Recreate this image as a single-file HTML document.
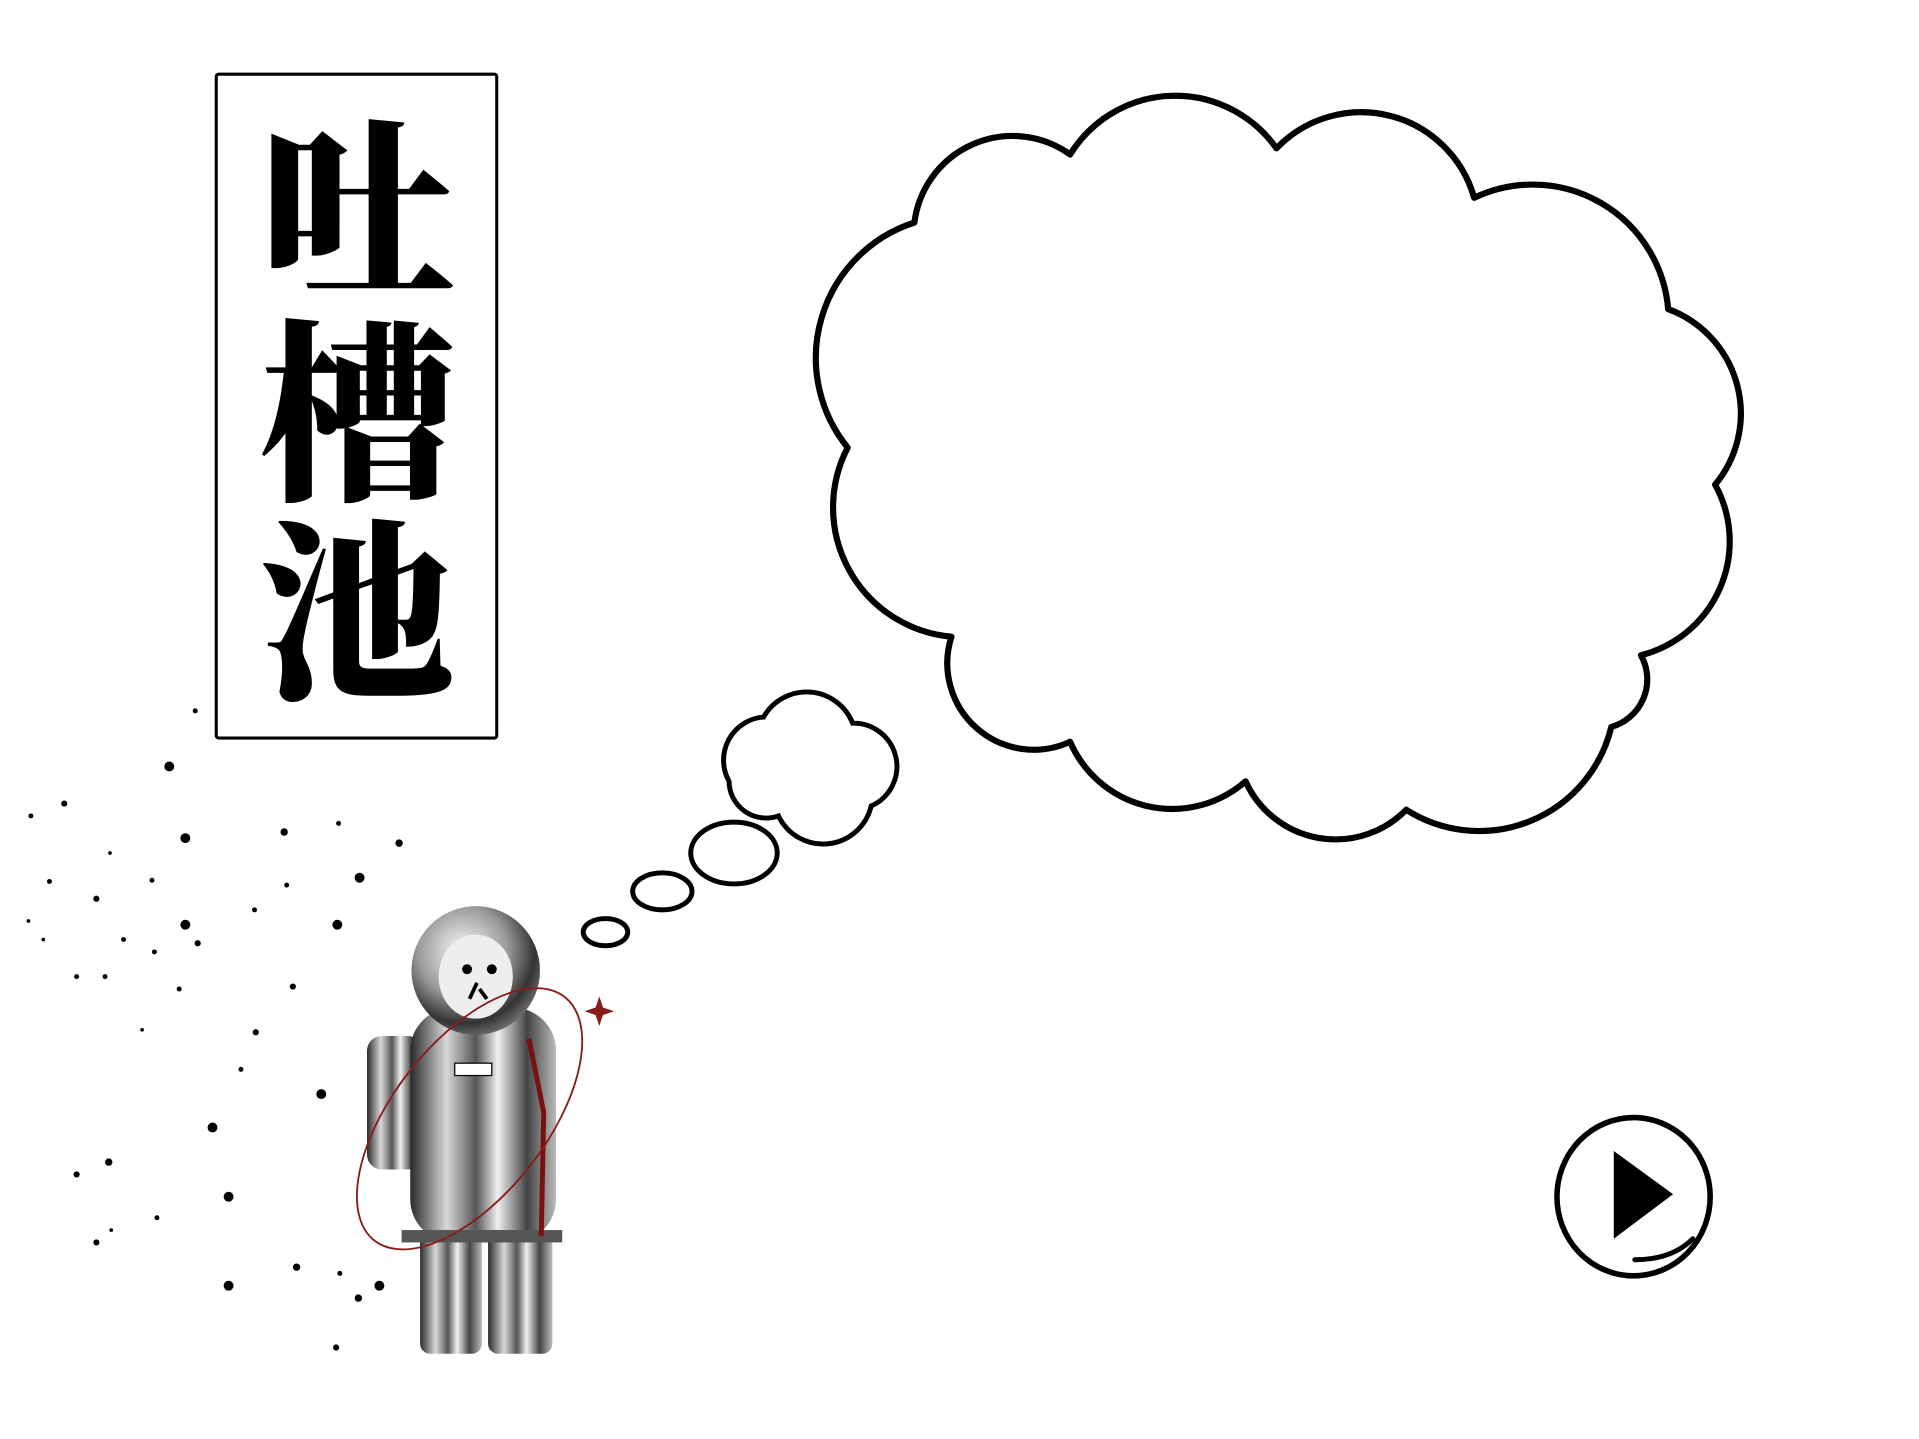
<!DOCTYPE html>
<html><head><meta charset="utf-8"><style>
html,body{margin:0;padding:0;background:#fff;}
svg{display:block;}
</style></head><body>
<svg width="1919" height="1439" viewBox="0 0 1553 1164" preserveAspectRatio="none">
<defs>
<linearGradient id="chrome" x1="0" x2="1">
<stop offset="0" stop-color="#2a2a2a"/><stop offset="0.25" stop-color="#d8d8d8"/><stop offset="0.45" stop-color="#555"/><stop offset="0.6" stop-color="#f0f0f0"/><stop offset="0.8" stop-color="#444"/><stop offset="1" stop-color="#bbb"/>
</linearGradient>
<radialGradient id="helm" cx="0.4" cy="0.35" r="0.7">
<stop offset="0" stop-color="#fafafa"/><stop offset="0.5" stop-color="#9a9a9a"/><stop offset="0.8" stop-color="#333"/><stop offset="1" stop-color="#777"/>
</radialGradient>
</defs>
<g>
<rect x="175" y="60" width="227" height="537" fill="#fff" stroke="#000" stroke-width="2.5" rx="2"/>
<g font-family="'Liberation Serif','Noto Serif CJK SC',serif" font-weight="900" font-size="158" text-anchor="middle" fill="#000">
<text x="289" y="228">吐</text>
<text x="289" y="392">槽</text>
<text x="289" y="553">池</text>
</g></g>
<path fill="#fff" stroke="#000" stroke-width="5" stroke-linejoin="round"
d="M740,180 A80,80 0 0 1 866,125 A100,100 0 0 1 1033,120 A95,95 0 0 1 1193,160 A110,110 0 0 1 1350,250 A90,90 0 0 1 1388,392 A95,95 0 0 1 1328,530 A40,40 0 0 1 1304,588 A110,110 0 0 1 1138,655 A80,80 0 0 1 1008,632 A90,90 0 0 1 866,600 A70,70 0 0 1 770,515 A105,105 0 0 1 686,362 A115,115 0 0 1 740,180 Z"/>
<g fill="#fff" stroke="#000" stroke-width="4">
<path d="M590,632 A35,35 0 0 1 618,580 A40,40 0 0 1 690,585 A35,35 0 0 1 705,652 A40,40 0 0 1 630,660 A30,30 0 0 1 590,632 Z"/>
<ellipse cx="594" cy="690" rx="35" ry="25"/>
<ellipse cx="536" cy="721" rx="24" ry="15"/>
<ellipse cx="490" cy="754" rx="18" ry="11"/>
</g>
<g>
<rect x="297" y="838" width="45" height="108" rx="12" fill="url(#chrome)"/>
<rect x="332" y="815" width="118" height="190" rx="35" fill="url(#chrome)"/>
<rect x="340" y="995" width="50" height="100" rx="8" fill="url(#chrome)"/>
<rect x="395" y="995" width="52" height="100" rx="8" fill="url(#chrome)"/>
<rect x="325" y="995" width="130" height="10" fill="#555"/>
<path d="M428,840 L440,900 L438,1000" stroke="#7a1010" stroke-width="4" fill="none"/>
<circle cx="385" cy="785" r="52" fill="url(#helm)"/>
<ellipse cx="385" cy="790" rx="30" ry="34" fill="#eee"/>
<circle cx="378" cy="784" r="4" fill="#000"/><circle cx="398" cy="784" r="4" fill="#000"/>
<path d="M386,795 L380,808 M388,800 L394,808" stroke="#000" stroke-width="3"/>
<rect x="368" y="860" width="30" height="10" fill="#fff" stroke="#000"/>
<ellipse cx="380" cy="905" rx="125" ry="62" transform="rotate(-52 380 905)" fill="none" stroke="#8a1c1c" stroke-width="1.5"/>
<path d="M485,806 L488,815 L497,818 L488,821 L485,830 L482,821 L473,818 L482,815 Z" fill="#8a1c1c"/>
</g>
<g fill="#000">
<circle cx="158" cy="575" r="2"/><circle cx="137" cy="620" r="4"/><circle cx="25" cy="660" r="2"/><circle cx="52" cy="650" r="2.5"/><circle cx="150" cy="678" r="4"/><circle cx="230" cy="673" r="3"/><circle cx="274" cy="666" r="2"/><circle cx="323" cy="682" r="3"/><circle cx="40" cy="713" r="2"/><circle cx="89" cy="690" r="1.5"/><circle cx="123" cy="712" r="2"/><circle cx="291" cy="710" r="4"/><circle cx="78" cy="727" r="2.5"/><circle cx="150" cy="748" r="4"/><circle cx="273" cy="748" r="4"/><circle cx="206" cy="736" r="2"/><circle cx="232" cy="716" r="2"/><circle cx="23" cy="745" r="1.5"/><circle cx="35" cy="760" r="1.5"/><circle cx="100" cy="760" r="2"/><circle cx="125" cy="770" r="2"/><circle cx="160" cy="763" r="2.5"/><circle cx="62" cy="790" r="2"/><circle cx="85" cy="790" r="2"/><circle cx="145" cy="800" r="2"/><circle cx="237" cy="798" r="2.5"/><circle cx="115" cy="833" r="1.5"/><circle cx="207" cy="835" r="2.5"/><circle cx="195" cy="865" r="2"/><circle cx="260" cy="885" r="4"/><circle cx="172" cy="912" r="4"/><circle cx="62" cy="950" r="2.5"/><circle cx="88" cy="940" r="3"/><circle cx="127" cy="985" r="2"/><circle cx="185" cy="968" r="4"/><circle cx="90" cy="995" r="1.5"/><circle cx="78" cy="1005" r="2.5"/><circle cx="185" cy="1040" r="4"/><circle cx="240" cy="1025" r="3"/><circle cx="275" cy="1030" r="2"/><circle cx="290" cy="1050" r="3"/><circle cx="307" cy="1040" r="4"/><circle cx="272" cy="1090" r="2.5"/>
</g>
<g>
<ellipse cx="1322" cy="968" rx="62" ry="64" fill="#fff" stroke="#000" stroke-width="4.5"/>
<path d="M1306,931 L1306,1002 L1354,966 Z" fill="#000"/>
<path d="M1323,1019 Q1353,1019 1370,1002" stroke="#000" stroke-width="4" fill="none" stroke-linecap="round"/>
</g>
</svg>
</body></html>
